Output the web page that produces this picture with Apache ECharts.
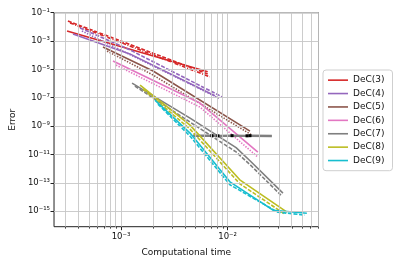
<!DOCTYPE html>
<html><head><meta charset="utf-8">
<script src="https://cdn.jsdelivr.net/npm/echarts@6/dist/echarts.min.js"></script>
<style>html,body{margin:0;padding:0;background:#fff}#c{width:399px;height:266px}</style>
</head><body><div id="c"></div>
<script>
// ---- data: [computational time, error] ----
const methods = ['DeC(3)','DeC(4)','DeC(5)','DeC(6)','DeC(7)','DeC(8)','DeC(9)'];
const dec3Solid  = [[3.12e-4,5.1e-3],[6.5e-3,6.7e-6]];
const dec3Dashed = [[3.18e-4,2.6e-2],[6.5e-3,4.8e-6]];
const dec3DashDot= [[3.33e-4,1.9e-2],[6.8e-3,3.0e-6]];
const dec4Solid  = [[3.55e-4,3.2e-3],[1.21e-3,1.24e-4],[7.6e-3,1.36e-7]];
const dec4Dashed = [[4.13e-4,8.4e-3],[1.21e-3,2.4e-4],[8.85e-3,1.16e-7]];
const dec4Dotted = [[4.3e-4,5.1e-3],[8.5e-3,8.4e-8]];
const dec5Solid  = [[6.78e-4,3.79e-4],[2.0e-3,7.63e-6],[1.62e-2,4.41e-10]];
const dec5Dotted = [[7.4e-4,1.97e-4],[2.0e-3,3.98e-6],[1.69e-2,2.31e-10]];
const dec6Solid  = [[8.41e-4,3.88e-5],[5.5e-3,4.2e-8],[1.92e-2,1.46e-11]];
const dec6Dotted = [[8.98e-4,2.02e-5],[5.5e-3,2.19e-8],[1.92e-2,6.46e-12]];
const dec7Solid  = [[1.27e-3,1.08e-6],[4.44e-3,3.66e-9],[1.2e-2,3.0e-11],[1.62e-2,3.6e-12],[3.3e-2,1.85e-14]];
const dec7Dashed = [[1.35e-3,6.65e-7],[4.44e-3,1.91e-9],[1.2e-2,1.5e-11],[1.62e-2,1.9e-12],[3.16e-2,1.34e-14]];
const dec7Stall  = [[4.73e-3,2.1e-10],[7.13e-3,2.1e-10],[8.11e-3,2.05e-10],[1.1e-2,2.1e-10],[1.52e-2,2.05e-10],[1.62e-2,2.1e-10],[2.6e-2,2.0e-10]];
const dec8Solid  = [[1.51e-3,7.83e-7],[4.44e-3,1.17e-9],[1.30e-2,1.62e-13],[3.6e-2,8.4e-16]];
const dec8Dashed = [[1.61e-3,4.09e-7],[4.44e-3,6.1e-10],[1.30e-2,8.5e-14],[3.44e-2,6.1e-16]];
const dec9Solid  = [[2.08e-3,6.84e-8],[4.44e-3,3.19e-10],[1.05e-2,1.17e-13],[2.66e-2,1.16e-15],[5.53e-2,7.1e-16]];
const dec9Dashed = [[2.22e-3,3.56e-8],[4.44e-3,1.96e-10],[1.05e-2,7.2e-14],[2.96e-2,8.4e-16],[5.3e-2,5.2e-16]];

const xMajorTicks = [1e-3, 1e-2];
const xGridValues = [3e-4,4e-4,5e-4,6e-4,7e-4,8e-4,9e-4,1e-3,2e-3,3e-3,4e-3,5e-3,6e-3,7e-3,8e-3,9e-3,1e-2,2e-2,3e-2,4e-2,5e-2,6e-2,7e-2];
const xMinorTicks = [3e-4,4e-4,5e-4,6e-4,7e-4,8e-4,9e-4,2e-3,3e-3,4e-3,5e-3,6e-3,7e-3,8e-3,9e-3,2e-2,3e-2,4e-2,5e-2,6e-2,7e-2];
const yMajorTicks = [1e-15,1e-13,1e-11,1e-9,1e-7,1e-5,1e-3,1e-1];

const runs = [
  ['DeC(3)', dec3Solid, 'solid'], ['DeC(3)', dec3Dashed, 'dashed'], ['DeC(3)', dec3DashDot, 'dashdot'],
  ['DeC(4)', dec4Solid, 'solid'], ['DeC(4)', dec4Dashed, 'dashed'], ['DeC(4)', dec4Dotted, 'dotted'],
  ['DeC(5)', dec5Solid, 'solid'], ['DeC(5)', dec5Dotted, 'dotted'],
  ['DeC(6)', dec6Solid, 'solid'], ['DeC(6)', dec6Dotted, 'dotted'],
  ['DeC(7)', dec7Solid, 'solid'], ['DeC(7)', dec7Dashed, 'dashed'], ['DeC(7)', dec7Stall, 'stall'],
  ['DeC(8)', dec8Solid, 'solid'], ['DeC(8)', dec8Dashed, 'dashed'],
  ['DeC(9)', dec9Solid, 'solid'], ['DeC(9)', dec9Dashed, 'dashed']
];

// ---- rendering ----
const colors = {'DeC(3)':'#d62728','DeC(4)':'#9467bd','DeC(5)':'#8c564b','DeC(6)':'#e377c2','DeC(7)':'#7f7f7f','DeC(8)':'#bcbd22','DeC(9)':'#17becf'};
const dashes = {solid:'solid', dashed:[4,1.6], dashdot:[4,1.5,1,1.5], dotted:[1.4,1.4], stall:'solid'};
const L = Math.log10;
const SUP = '⁻⁰¹²³⁴⁵⁶⁷⁸⁹';
const sup = s => s.replace(/[-0-9]/g, c => SUP[c === '-' ? 0 : (+c + 1)]);
const powLabel = v => '10' + sup(String(Math.round(v)));
const FONT = 'DejaVu Sans';
const XMIN = -3.628, XMAX = -1.148, YMIN = -16.1, YMAX = -1;
const frameColor = '#222';

const series = runs.map(([name, pts, st]) => {
  const c = colors[name];
  const stall = st === 'stall';
  return {
    type: 'line', name, silent: true, animation: false, z: 3,
    data: pts.map((p, i) => {
      const item = { value: [L(p[0]), L(p[1])] };
      if (stall && (i === 0 || i === pts.length - 1)) item.symbol = 'none';
      return item;
    }),
    showSymbol: stall, symbol: stall ? 'rect' : 'none', symbolSize: 3,
    itemStyle: { color: stall ? '#000' : c },
    lineStyle: { color: c, width: stall ? 2.4 : 1.6, type: dashes[st] },
    emphasis: { disabled: true }
  };
});

series.unshift({
  type: 'line', name: '__grid', silent: true, animation: false, z: 1,
  data: [[XMIN, YMIN]], showSymbol: false, lineStyle: { opacity: 0 },
  markLine: {
    silent: true, animation: false, symbol: ['none', 'none'], label: { show: false },
    lineStyle: { color: '#c6c6c6', width: 0.9, type: 'solid' },
    emphasis: { disabled: true },
    data: xGridValues.map(v => ({ xAxis: L(v) })).concat(yMajorTicks.map(v => ({ yAxis: L(v) })))
  }
});

const axisText = { fontSize: 8.5, color: '#111', fontFamily: FONT };
const option = {
  animation: false,
  backgroundColor: '#fff',
  grid: { left: 54, right: 80.5, top: 12.7, bottom: 39.3, show: true, borderColor: frameColor, borderWidth: 1, backgroundColor: 'transparent' },
  legend: {
    orient: 'vertical', left: 323, top: 70, icon: 'rect', itemWidth: 20, itemHeight: 1.6, itemGap: 3.1,
    padding: [5, 8, 5, 5], borderColor: '#cfcfcf', borderWidth: 1, borderRadius: 3, backgroundColor: '#fff',
    textStyle: { fontSize: 9, color: '#111', fontFamily: FONT, lineHeight: 10.3 },
    selectedMode: false,
    data: methods.map(n => ({ name: n, itemStyle: { color: colors[n] } }))
  },
  xAxis: [
    {
      type: 'value', min: XMIN, max: XMAX, position: 'bottom',
      axisLine: { show: false },
      axisTick: { show: true, customValues: xMajorTicks.map(L), length: 3.5, lineStyle: { color: frameColor, width: 1 } },
      axisLabel: { customValues: xMajorTicks.map(L), formatter: powLabel, margin: 5.5, ...axisText },
      splitLine: { show: false },
      name: 'Computational time', nameLocation: 'middle', nameGap: 21,
      nameTextStyle: { fontSize: 9, color: '#111', fontFamily: FONT }
    },
    {
      type: 'value', min: XMIN, max: XMAX, position: 'bottom',
      axisLine: { show: false },
      axisTick: { show: true, customValues: xMinorTicks.map(L), length: 2, lineStyle: { color: frameColor, width: 0.8 } },
      axisLabel: { show: false }, splitLine: { show: false }
    }
  ],
  yAxis: [
    {
      type: 'value', min: YMIN, max: YMAX, position: 'left',
      axisLine: { show: false },
      axisTick: { show: true, customValues: yMajorTicks.map(L), length: 3.5, lineStyle: { color: frameColor, width: 1 } },
      axisLabel: { customValues: yMajorTicks.map(L), formatter: powLabel, margin: 4, ...axisText },
      splitLine: { show: false },
      name: 'Error', nameLocation: 'middle', nameGap: 36, nameRotate: 90,
      nameTextStyle: { fontSize: 9, color: '#111', fontFamily: FONT }
    }
  ],
  series
};
const chart = echarts.init(document.getElementById('c'), null, { renderer: 'canvas' });
chart.setOption(option);
</script>
</body></html>
